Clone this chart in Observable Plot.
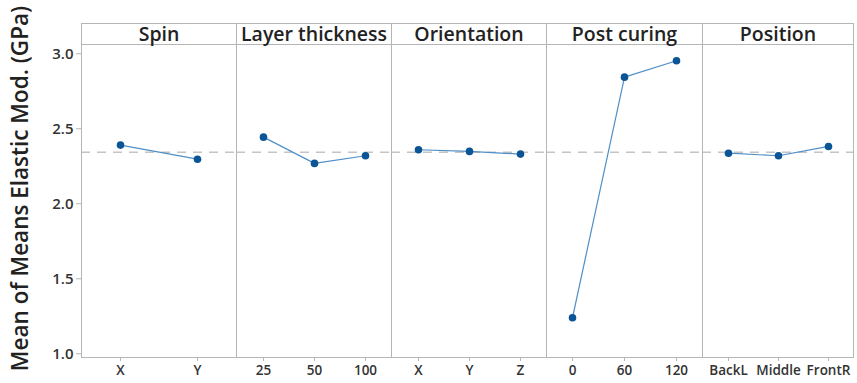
<!DOCTYPE html>
<html>
<head>
<meta charset="utf-8">
<script src="https://cdn.jsdelivr.net/npm/d3@7"></script>
<script src="https://cdn.jsdelivr.net/npm/@observablehq/plot@0.6"></script>
<style>
  html, body { margin: 0; padding: 0; background: #fff; }
  #chart { position: relative; width: 857px; height: 383px; font-family: "Open Sans", sans-serif; }
  #plots { position: absolute; left: 0; top: 0; display: flex; }
  #strips { position: absolute; top: 23px; left: 0; height: 22px; display: flex; }
  .strip { box-sizing: border-box; height: 22px; border-top: 1px solid #b5b5b5; border-bottom: 1px solid #b5b5b5; border-left: 1px solid #b5b5b5;
           text-align: center; font-weight: 600; font-size: 19.5px; line-height: 20px; color: #222; white-space: nowrap; overflow: visible; }
  .strip.last { border-right: 1px solid #b5b5b5; }
</style>
</head>
<body>
<div id="chart"><div id="plots"></div><div id="strips"></div></div>
<script>
const factors = ["Spin", "Layer thickness", "Orientation", "Post curing", "Position"];
const spinLevels = ["X", "Y"];
const spinMeans = [2.391, 2.297];
const layerLevels = ["25", "50", "100"];
const layerMeans = [2.444, 2.269, 2.320];
const orientationLevels = ["X", "Y", "Z"];
const orientationMeans = [2.360, 2.349, 2.331];
const postLevels = ["0", "60", "120"];
const postMeans = [1.240, 2.844, 2.953];
const positionLevels = ["BackL", "Middle", "FrontR"];
const positionMeans = [2.337, 2.320, 2.382];
const grandMean = 2.344;
const yTicks = [1.0, 1.5, 2.0, 2.5, 3.0];
const yLabel = "Mean of Means Elastic Mod. (GPa)";

const levelsList = [spinLevels, layerLevels, orientationLevels, postLevels, positionLevels];
const meansList = [spinMeans, layerMeans, orientationMeans, postMeans, positionMeans];

const leftMargin = 81;
const panelWidths = [155, 155, 155, 156, 151];
const plots = document.getElementById("plots");
const strips = document.getElementById("strips");
strips.style.left = leftMargin + "px";

const lineColor = "#4f8fc8";
const dotColor = "#0b5596";
const borderColor = "#b5b5b5";

factors.forEach((f, i) => {
  const data = levelsList[i].map((lv, j) => ({level: lv, mean: meansList[i][j]}));
  const first = i === 0;
  const last = i === factors.length - 1;
  const marks = [
    Plot.ruleY([grandMean], {stroke: "#c4c4c4", strokeWidth: 1.5, strokeDasharray: "9,7"}),
    Plot.frame({anchor: "left", stroke: borderColor}),
    Plot.frame({anchor: "bottom", stroke: borderColor}),
    Plot.line(data, {x: "level", y: "mean", stroke: lineColor, strokeWidth: 1.2}),
    Plot.dot(data, {x: "level", y: "mean", r: 3.8, fill: dotColor}),
    Plot.axisX({tickSize: 4, tickPadding: 4, stroke: borderColor, fill: "#333", fontSize: 13.5, fontWeight: 600, label: null})
  ];
  if (last) marks.push(Plot.frame({anchor: "right", stroke: borderColor}));
  if (first) {
    marks.push(Plot.axisY({ticks: yTicks, tickFormat: d3.format(".1f"), tickSize: 5, tickPadding: 3,
      stroke: borderColor, fill: "#333", fontSize: 15, fontWeight: 600, label: null}));
    marks.push(Plot.text([yLabel], {frameAnchor: "left", text: d => d, rotate: -90, textAnchor: "middle",
      dx: -61, dy: -13, fontSize: 22.5, fontWeight: 600, fill: "#222"}));
  }
  const chart = Plot.plot({
    width: (first ? leftMargin : 0) + panelWidths[i],
    height: 383,
    marginTop: 45,
    marginBottom: 26,
    marginLeft: first ? leftMargin : 0,
    marginRight: 0,
    style: {fontFamily: "Open Sans, sans-serif", overflow: "visible"},
    x: {type: "point", domain: levelsList[i], padding: 0.5, axis: null},
    y: {domain: [0.975, 3.055], axis: null},
    marks
  });
  plots.appendChild(chart);

  const s = document.createElement("div");
  s.className = "strip" + (last ? " last" : "");
  s.style.width = (panelWidths[i] + (last ? 1 : 0)) + "px";
  s.textContent = f;
  strips.appendChild(s);
});
</script>
</body>
</html>
